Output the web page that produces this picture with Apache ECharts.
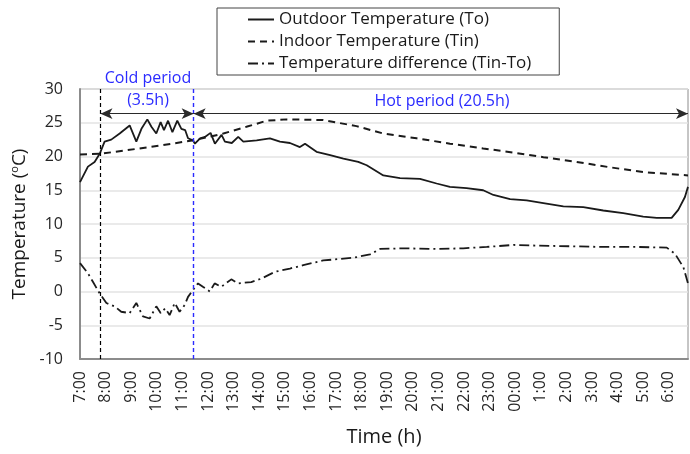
<!DOCTYPE html>
<html>
<head>
<meta charset="utf-8">
<script src="https://cdn.jsdelivr.net/npm/echarts@6/dist/echarts.min.js"></script>
<style>
	html,body{margin:0;padding:0;background:#fff;}
	#chart{width:690px;height:454px;}
</style>
</head>
<body>
<div id="chart"></div>
<script>
// x = hours after 7:00
const hourLabels=['7:00','8:00','9:00','10:00','11:00','12:00','13:00','14:00','15:00','16:00','17:00','18:00',
	'19:00','20:00','21:00','22:00','23:00','00:00','1:00','2:00','3:00','4:00','5:00','6:00'];

const outdoorHours=[0,0.31,0.57,0.77,0.96,1.22,1.55,1.94,2.2,2.4,2.63,2.79,2.98,3.15,3.28,3.44,3.61,3.8,3.96,4.11,4.22,4.41,
	4.49,4.69,4.88,5.1,5.27,5.53,5.66,5.93,6.18,6.38,6.9,7.42,7.81,8.2,8.59,8.79,9.24,9.77,10.29,10.87,11.2,11.85,12.5,
	13.28,13.93,14.45,15.1,15.75,16.15,16.8,17.45,18.1,18.88,19.66,20.44,21.22,22.0,22.53,23.11,23.37,23.63,23.75];
const outdoorTemp=[16.2,18.5,19.2,20.4,22.2,22.5,23.4,24.6,22.2,24.1,25.5,24.4,23.4,25.1,23.9,25.3,23.6,25.3,24.1,23.9,22.7,22.4,
	21.9,22.7,22.9,23.5,21.9,23.2,22.2,22.0,22.9,22.2,22.4,22.7,22.2,22.0,21.4,21.9,20.7,20.2,19.7,19.2,18.7,17.2,16.8,
	16.7,16.0,15.5,15.3,15.0,14.3,13.7,13.5,13.1,12.6,12.5,12.0,11.6,11.1,10.9,10.9,12.1,14.0,15.5];

const indoorHours=[0,0.8,2.73,4.44,5.6,6.5,7.29,8.07,9.5,10.8,11.85,13.15,14.45,15.75,17.06,18.1,19.4,20.7,22.0,23.75];
const indoorTemp=[20.3,20.4,21.4,22.4,23.4,24.4,25.3,25.5,25.4,24.5,23.4,22.7,21.9,21.2,20.5,19.9,19.2,18.4,17.7,17.2];

const diffHours=[0,0.31,0.51,0.77,1.03,1.35,1.61,1.94,2.2,2.46,2.72,2.98,3.15,3.33,3.5,3.7,3.89,4.09,4.22,4.41,4.61,4.8,
	5.07,5.26,5.52,5.91,6.17,6.69,7.08,7.6,8.2,8.72,9.5,10.68,11.33,11.72,12.63,13.93,14.97,15.89,16.93,17.84,19.14,
	20.44,21.74,22.92,23.24,23.57,23.75];
const diffTemp=[4.2,2.7,1.4,-0.3,-1.7,-2.2,-3.0,-3.2,-1.7,-3.7,-4.0,-2.2,-3.2,-2.5,-3.5,-1.7,-3.0,-2.0,-0.8,0.2,1.2,0.7,
	0.0,1.2,0.7,1.8,1.2,1.4,1.9,2.9,3.4,3.9,4.6,5.0,5.5,6.3,6.4,6.3,6.4,6.6,6.9,6.8,6.7,
	6.6,6.6,6.5,5.6,3.6,1.2];

// period boundaries (hours after 7:00) and arrow height
const coldStart=0.8, hotStart=4.44, xEnd=23.75, arrowY=26.35;

const font='Open Sans';
const blue='#2b2bff';
const zip=(xs,ys)=>xs.map((x,i)=>[x,ys[i]]);

let chart=echarts.init(document.getElementById('chart'));
let option={
	animation:false,
	textStyle:{fontFamily:font,color:'#262626'},
	grid:{left:80,top:89,right:2,bottom:95,show:true,borderColor:'#8c8c8c',borderWidth:1},
	legend:{
		left:217,top:8,orient:'vertical',
		padding:[3,28,3,30],
		itemWidth:26,itemHeight:16,itemGap:5,
		borderColor:'#444',borderWidth:1,
		itemStyle:{opacity:0},
		textStyle:{fontFamily:font,fontSize:17,color:'#1a1a1a'},
		data:['Outdoor Temperature (To)','Indoor Temperature (Tin)','Temperature difference (Tin-To)']
	},
	xAxis:{
		type:'value',min:0,max:xEnd,interval:1,
		name:'Time (h)',nameLocation:'middle',nameGap:68,
		nameTextStyle:{fontFamily:font,fontSize:20,color:'#1a1a1a'},
		axisLine:{onZero:false,lineStyle:{color:'#8c8c8c',width:2}},
		axisTick:{show:false},
		splitLine:{show:false},
		axisLabel:{
			rotate:90,margin:12,fontSize:16,color:'#262626',fontFamily:font,
			formatter:v=>Number.isInteger(v)?hourLabels[v]:''
		}
	},
	yAxis:{
		type:'value',min:-10,max:30,interval:5,
		name:'Temperature ({sup|o}C)',nameLocation:'middle',nameRotate:90,nameGap:48,
		nameTextStyle:{fontFamily:font,fontSize:19,color:'#1a1a1a',
			rich:{sup:{fontFamily:font,fontSize:11,color:'#1a1a1a',verticalAlign:'top',padding:[0,0,8,0]}}},
		axisLine:{show:true,onZero:false,lineStyle:{color:'#8c8c8c',width:2}},
		axisTick:{show:false},
		splitLine:{lineStyle:{color:'#e3e3e3',width:1.5}},
		axisLabel:{fontSize:16,margin:17,color:'#262626',fontFamily:font}
	},
	graphic:[
		{type:'text',x:148,y:78,style:{text:'Cold period',fill:blue,font:'16px "Open Sans"',align:'center',verticalAlign:'middle'}},
		{type:'text',x:148,y:100,style:{text:'(3.5h)',fill:blue,font:'16px "Open Sans"',align:'center',verticalAlign:'middle'}},
		{type:'text',x:442,y:101,style:{text:'Hot period (20.5h)',fill:blue,font:'16px "Open Sans"',align:'center',verticalAlign:'middle'}}
	],
	series:[
		{
			name:'Outdoor Temperature (To)',type:'line',symbol:'none',
			lineStyle:{color:'#1a1a1a',width:1.8},itemStyle:{color:'#1a1a1a'},
			data:zip(outdoorHours,outdoorTemp),
			markLine:{
				silent:true,symbol:'none',label:{show:false},
				data:[
					{xAxis:coldStart,lineStyle:{color:'#000',type:[4,3],width:1.2}},
					{xAxis:hotStart,lineStyle:{color:blue,type:[4,3],width:1.4}},
					[{coord:[coldStart,arrowY],symbol:'arrow'},{coord:[hotStart,arrowY],symbol:'arrow',lineStyle:{color:'#2a2a2a',type:'solid',width:1}}],
					[{coord:[hotStart,arrowY],symbol:'arrow'},{coord:[xEnd,arrowY],symbol:'arrow',lineStyle:{color:'#2a2a2a',type:'solid',width:1}}]
				],
				symbolSize:[8,12]
			}
		},
		{
			name:'Indoor Temperature (Tin)',type:'line',symbol:'none',
			lineStyle:{color:'#1a1a1a',width:2,type:[7,5]},itemStyle:{color:'#1a1a1a'},
			data:zip(indoorHours,indoorTemp)
		},
		{
			name:'Temperature difference (Tin-To)',type:'line',symbol:'none',
			lineStyle:{color:'#1a1a1a',width:1.8,type:[10,4,2,4]},itemStyle:{color:'#1a1a1a'},
			data:zip(diffHours,diffTemp)
		}
	]
};
chart.setOption(option);
</script>
</body>
</html>
